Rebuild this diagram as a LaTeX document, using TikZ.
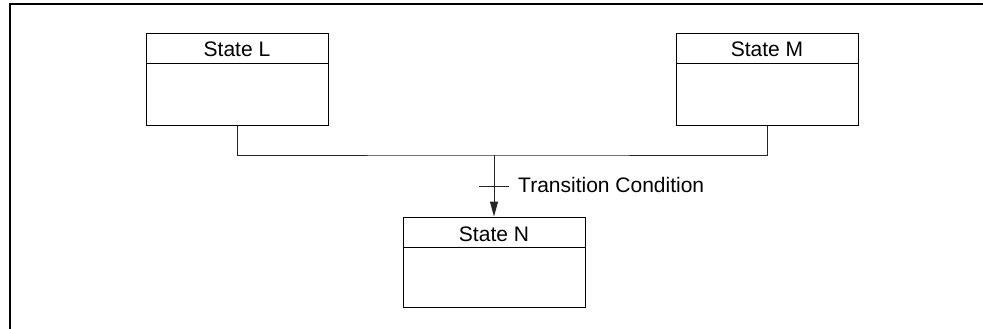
\documentclass[tikz,border=0pt]{standalone}
\usepackage{fontspec}
\setmainfont{Liberation Sans}
\usetikzlibrary{arrows.meta}
\tikzset{
  statebox/.style={draw, line width=1pt, minimum width=182pt, minimum height=91pt, inner sep=0pt,
    path picture={\draw[line width=1pt] ([yshift=-30pt]path picture bounding box.north west) -- ([yshift=-30pt]path picture bounding box.north east);}},
  title/.style={anchor=base, inner sep=0pt, font=\fontsize{21}{25}\selectfont},
  conn/.style={line width=1pt, draw=black!85},
}
\begin{document}
\begin{tikzpicture}[x=1pt,y=-1pt]
\useasboundingbox (0,0) rectangle (983,329);
\draw[line width=1.4pt] (10,329) -- (10,4) -- (983,4);
\node[statebox] (L) at (237,79.5) {};
\node[statebox] (M) at (767,79.5) {};
\node[statebox, minimum height=90pt] (N) at (494,262) {};
\node[title] (Lt) at (237,57) {State L};
\node[title] (Mt) at (767,57) {State M};
\node[title] (Nt) at (494,241) {State N};
\coordinate (J) at (494,155);
\coordinate (T) at (494,186);
\draw[conn] (L.south) |- (J) -| (M.south);
\draw[conn, -{Triangle[length=15pt,width=8pt]}] (J) -- (N.north);
\draw[conn] ([xshift=-15pt]T) -- ([xshift=15pt]T);
\node[title, anchor=base west] (TC) at (518,192) {Transition Condition};
\end{tikzpicture}
\end{document}
